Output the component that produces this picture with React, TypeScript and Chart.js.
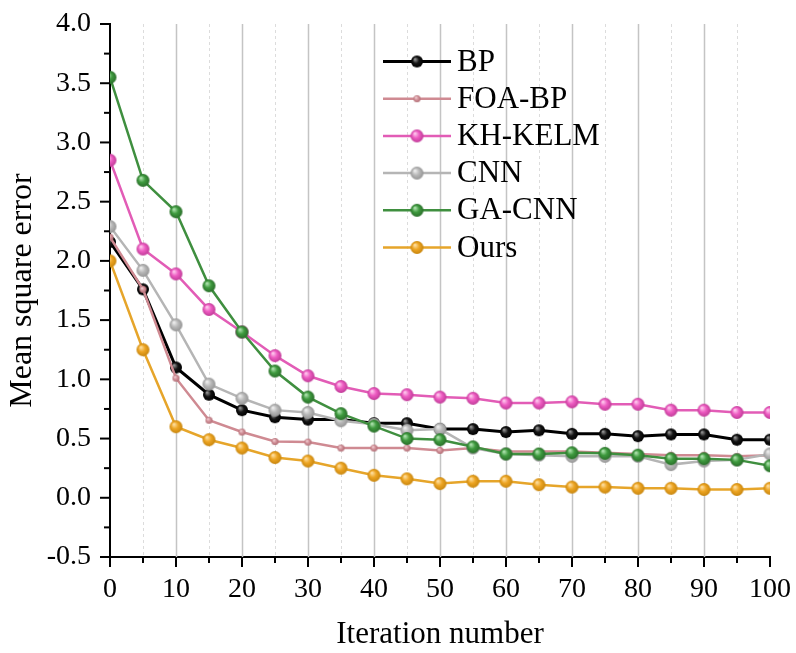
import React, { useEffect, useRef } from 'react';
import { Chart, registerables } from 'chart.js';

Chart.register(...registerables);

const iterations = [0, 5, 10, 15, 20, 25, 30, 35, 40, 45, 50, 55, 60, 65, 70, 75, 80, 85, 90, 95, 100];
const bpValues = [2.16, 1.76, 1.10, 0.87, 0.74, 0.68, 0.66, 0.66, 0.63, 0.63, 0.58, 0.58, 0.555, 0.57, 0.54, 0.54, 0.52, 0.535, 0.535, 0.49, 0.49];
const foaBpValues = [2.20, 1.76, 1.01, 0.655, 0.555, 0.475, 0.47, 0.42, 0.42, 0.42, 0.40, 0.42, 0.39, 0.39, 0.39, 0.38, 0.37, 0.36, 0.36, 0.35, 0.36];
const khKelmValues = [2.85, 2.10, 1.89, 1.59, 1.40, 1.20, 1.03, 0.94, 0.88, 0.87, 0.85, 0.84, 0.80, 0.80, 0.81, 0.79, 0.79, 0.74, 0.74, 0.72, 0.72];
const cnnValues = [2.29, 1.92, 1.46, 0.96, 0.84, 0.74, 0.72, 0.65, 0.62, 0.57, 0.58, 0.42, 0.37, 0.36, 0.35, 0.35, 0.35, 0.28, 0.31, 0.32, 0.37];
const gaCnnValues = [3.55, 2.68, 2.415, 1.79, 1.40, 1.07, 0.85, 0.71, 0.605, 0.50, 0.49, 0.43, 0.37, 0.37, 0.38, 0.375, 0.36, 0.33, 0.33, 0.32, 0.27];
const oursValues = [2.00, 1.25, 0.60, 0.49, 0.42, 0.34, 0.31, 0.25, 0.19, 0.16, 0.12, 0.14, 0.14, 0.11, 0.09, 0.09, 0.08, 0.08, 0.07, 0.07, 0.08];

const seriesNames = ['BP', 'FOA-BP', 'KH-KELM', 'CNN', 'GA-CNN', 'Ours'];
const seriesValues = [bpValues, foaBpValues, khKelmValues, cnnValues, gaCnnValues, oursValues];

const xTitle = 'Iteration number';
const yTitle = 'Mean square error';

const FONT = "'Liberation Serif', 'Times New Roman', serif";

const styles = [
  { line: '#000000', base: '#151515', light: '#9a9a9a', dark: '#000000', r: 6, w: 3 },
  { line: '#cf8a92', base: '#d4939b', light: '#f4d6da', dark: '#b06c74', r: 3.5, w: 2.5 },
  { line: '#e25cb6', base: '#ee5cc2', light: '#ffd0f0', dark: '#c03c98', r: 6.5, w: 2.5 },
  { line: '#b5b5b5', base: '#b9b9b9', light: '#f2f2f2', dark: '#959595', r: 6.5, w: 2.5 },
  { line: '#3f8f3f', base: '#3e9a3e', light: '#b8e8b8', dark: '#2a6e2a', r: 6.5, w: 2.5 },
  { line: '#e6a52a', base: '#eda523', light: '#ffe2a8', dark: '#c8860e', r: 6.5, w: 2.5 },
];

function makeSphere(base: string, light: string, dark: string, r: number): HTMLCanvasElement {
  const c = document.createElement('canvas');
  const size = Math.ceil(r * 2 + 2);
  c.width = size;
  c.height = size;
  const ctx = c.getContext('2d')!;
  const cx = size / 2;
  const cy = size / 2;
  const g = ctx.createRadialGradient(cx - r * 0.35, cy - r * 0.4, r * 0.05, cx, cy, r);
  g.addColorStop(0, light);
  g.addColorStop(0.5, base);
  g.addColorStop(1, dark);
  ctx.fillStyle = g;
  ctx.beginPath();
  ctx.arc(cx, cy, r, 0, Math.PI * 2);
  ctx.fill();
  return c;
}

const gridPlugin = {
  id: 'customGrid',
  beforeDatasetsDraw(chart: any) {
    const { ctx, chartArea, scales } = chart;
    const xs = scales.x;
    ctx.save();
    for (let v = 5; v < 100; v += 5) {
      const px = Math.round(xs.getPixelForValue(v)) + 0.5;
      ctx.beginPath();
      if (v % 10 === 0) {
        ctx.setLineDash([]);
        ctx.strokeStyle = '#c4c4c4';
        ctx.lineWidth = 1.5;
      } else {
        ctx.setLineDash([3, 3]);
        ctx.strokeStyle = '#dcdcdc';
        ctx.lineWidth = 1;
      }
      ctx.moveTo(px, chartArea.top);
      ctx.lineTo(px, chartArea.bottom);
      ctx.stroke();
    }
    ctx.restore();
  },
};

const ticksPlugin = {
  id: 'customTicks',
  afterDraw(chart: any) {
    const { ctx, chartArea, scales } = chart;
    ctx.save();
    ctx.strokeStyle = '#000';
    ctx.lineWidth = 2;
    for (let v = 0; v <= 100; v += 5) {
      const px = scales.x.getPixelForValue(v);
      const len = v % 10 === 0 ? 10 : 6;
      ctx.beginPath();
      ctx.moveTo(px, chartArea.bottom);
      ctx.lineTo(px, chartArea.bottom + len);
      ctx.stroke();
    }
    for (let k = -2; k <= 16; k++) {
      const v = k * 0.25;
      const py = scales.y.getPixelForValue(v);
      const len = k % 2 === 0 ? 10 : 6;
      ctx.beginPath();
      ctx.moveTo(chartArea.left, py);
      ctx.lineTo(chartArea.left - len, py);
      ctx.stroke();
    }
    ctx.restore();
  },
};

const legendPlugin = {
  id: 'customLegend',
  afterDraw(chart: any) {
    const { ctx, chartArea } = chart;
    const x0 = chartArea.left + 273;
    const y0 = chartArea.top + 37.5;
    const dy = 37.2;
    ctx.save();
    chart.data.datasets.forEach((ds: any, i: number) => {
      const y = y0 + i * dy;
      ctx.strokeStyle = ds.borderColor;
      ctx.lineWidth = ds.borderWidth;
      ctx.beginPath();
      ctx.moveTo(x0, y);
      ctx.lineTo(x0 + 68, y);
      ctx.stroke();
      const img = ds.pointStyle as HTMLCanvasElement;
      ctx.drawImage(img, x0 + 34 - img.width / 2, y - img.height / 2);
      ctx.fillStyle = '#000';
      ctx.font = `31px ${FONT}`;
      ctx.textBaseline = 'middle';
      ctx.textAlign = 'left';
      ctx.fillText(ds.label, x0 + 74, y + 1);
    });
    ctx.restore();
  },
};

export default function App() {
  const ref = useRef<HTMLCanvasElement | null>(null);

  useEffect(() => {
    if (!ref.current) return;
    const datasets = seriesNames.map((name, i) => {
      const s = styles[i];
      return {
        label: name,
        data: iterations.map((x, j) => ({ x, y: seriesValues[i][j] })),
        borderColor: s.line,
        backgroundColor: s.base,
        borderWidth: s.w,
        pointStyle: makeSphere(s.base, s.light, s.dark, s.r),
        pointRadius: s.r,
        tension: 0,
        order: seriesNames.length - i,
      };
    });

    const chart = new Chart(ref.current, {
      type: 'line',
      data: { datasets } as any,
      options: {
        animation: false,
        responsive: false,
        events: [],
        layout: { padding: { top: 24, right: 26, left: 0, bottom: 0 } },
        plugins: {
          legend: { display: false },
          tooltip: { enabled: false },
        },
        scales: {
          x: {
            type: 'linear',
            min: 0,
            max: 100,
            grid: { display: false },
            border: { display: true, color: '#000', width: 2 },
            ticks: {
              stepSize: 10,
              autoSkip: false,
              maxRotation: 0,
              color: '#000',
              padding: 8,
              font: { family: FONT, size: 28 },
            },
            title: {
              display: true,
              text: xTitle,
              color: '#000',
              font: { family: FONT, size: 31 },
              padding: { top: 0, bottom: 0 },
            },
            afterFit: (s: any) => {
              s.height = 96;
              s.paddingLeft = 0;
              s.paddingRight = 0;
            },
          },
          y: {
            type: 'linear',
            min: -0.5,
            max: 4,
            grid: { display: false },
            border: { display: true, color: '#000', width: 2 },
            ticks: {
              stepSize: 0.5,
              autoSkip: false,
              color: '#000',
              padding: 11,
              font: { family: FONT, size: 28 },
              callback: (v: any) => Number(v).toFixed(1),
            },
            title: {
              display: true,
              text: yTitle,
              color: '#000',
              font: { family: FONT, size: 32 },
              padding: { top: 3, bottom: 0 },
            },
            afterFit: (s: any) => {
              s.width = 110;
              s.paddingTop = 0;
              s.paddingBottom = 0;
            },
          },
        },
      } as any,
      plugins: [gridPlugin, ticksPlugin, legendPlugin],
    });
    return () => chart.destroy();
  }, []);

  return (
    <div style={{ position: 'absolute', left: 0, top: 0, width: 796, height: 653, background: '#fff' }}>
      <canvas ref={ref} width={796} height={653} style={{ width: 796, height: 653 }} />
    </div>
  );
}
